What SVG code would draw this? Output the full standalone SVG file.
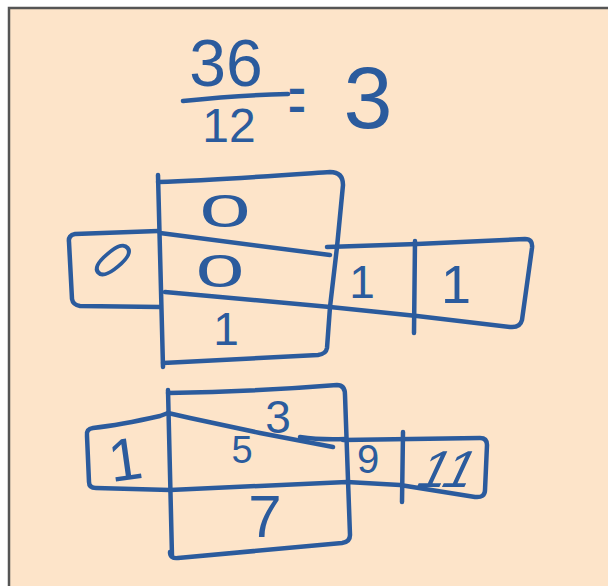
<svg xmlns="http://www.w3.org/2000/svg" width="608" height="586" viewBox="0 0 608 586">
<defs>
<style>
.ink{fill:none;stroke:#2b5b9d;stroke-width:4.5;stroke-linecap:round;stroke-linejoin:round}
.t{fill:#2b5b9d;font-family:"Liberation Sans",Arial,sans-serif;text-anchor:middle}
</style>
</defs>
<rect x="0" y="0" width="608" height="586" fill="#ffffff"/>
<rect x="9" y="8" width="620" height="600" fill="#fde4c9" stroke="#555555" stroke-width="2.5"/>

<g id="equation">
<text class="t" x="226" y="86" font-size="66">36</text>
<path class="ink" d="M183,101 Q240,95 288,94"/>
<text class="t" x="229" y="142" font-size="48">12</text>
<text class="t" transform="translate(297,98) scale(0.6,1.5)" x="0" y="17" font-size="48">=</text>
<text class="t" x="368" y="128" font-size="88">3</text>
</g>

<g id="figure-top">
<g id="top-central" class="ink">
<path d="M158,175 L163,367"/>
<path d="M158,182 C220,180 300,174 330,172 Q343,172 343,185 L337,247 L330,307 L327,348 Q326,354 318,355 L163,363"/>
</g>
<g id="top-band" class="ink">
<path d="M158,231 L75,234 Q68,235 69,242 L72,299 Q73,305 80,306 L160,307"/>
<path d="M160,233 L330,255"/>
<path d="M165,292 L330,307 L417,316 L510,327 Q520,328 522,320 L532,248 Q533,239 525,239 L417,244 L327,247"/>
<path d="M415,241 L414,333"/>
</g>
<g id="top-labels">
<text class="t" transform="translate(225,210) scale(2,1)" x="0" y="17" font-size="46">0</text>
<text class="t" transform="translate(220,270) scale(1.9,1)" x="0" y="17" font-size="46">0</text>
<text class="t" transform="translate(113,260) rotate(50) scale(0.7,1)" x="0" y="21" font-size="60">0</text>
<text class="t" x="226" y="345" font-size="46">1</text>
<text class="t" x="362" y="298" font-size="46">1</text>
<text class="t" x="456" y="303" font-size="54">1</text>
</g>
</g>

<g id="figure-bottom">
<g id="bottom-central" class="ink">
<path d="M168,390 L172,556"/>
<path d="M168,393 C230,392 300,388 337,385 Q345,385 345,395 L348,480 L350,535 Q350,542 342,543 L178,558 Q170,559 170,552"/>
</g>
<g id="bottom-band" class="ink">
<path d="M168,413 L160,416 Q120,425 93,428 Q86,429 87,436 L89,482 Q89,488 96,488 L170,490"/>
<path d="M168,413 L190,418 L260,433 L333,447"/>
<path d="M300,437 Q320,440 345,439"/>
<path d="M170,490 L347,482 L400,485 L475,497 Q485,498 485,490 L487,445 Q487,438 480,438 L343,440"/>
<path d="M403,432 L402,502"/>
</g>
<g id="bottom-labels">
<text class="t" transform="translate(128,480) rotate(-8)" x="0" y="0" font-size="60">1</text>
<text class="t" x="278" y="433" font-size="46">3</text>
<text class="t" x="242" y="463" font-size="38">5</text>
<text class="t" x="368" y="473" font-size="40">9</text>
<text class="t" transform="translate(440,487) skewX(-25)" x="0" y="0" font-size="52">11</text>
<text class="t" x="265" y="537" font-size="60">7</text>
</g>
</g>
</svg>
